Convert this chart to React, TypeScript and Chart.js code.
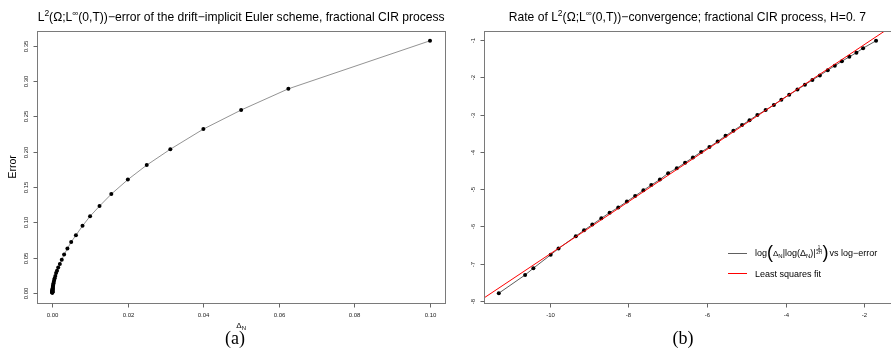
import React, { useEffect, useRef } from "react";
import { Chart, registerables } from "chart.js";
Chart.register(...registerables);

const SANS = "'Liberation Sans', Arial, Helvetica, sans-serif";
const SERIF = "'Liberation Serif', 'Times New Roman', serif";

// ---- panel (a): step size vs. error ----
const deltaN = [
  0.1, 0.0625, 0.05, 0.04, 0.03125, 0.025, 0.02, 0.015625, 0.0125, 0.01,
  0.008, 0.00625, 0.005, 0.004, 0.003125, 0.0025, 0.002, 0.0015625, 0.00125, 0.001,
  0.0008, 0.000625, 0.0005, 0.0004, 0.0003125, 0.00025, 0.0002, 0.00015625, 0.000125, 0.0001,
  0.00008, 0.0000625, 0.00005, 0.00004, 0.00003125, 0.000025, 0.00002, 0.000015625, 0.00001, 0.000008,
  0.000005, 0.000004, 0.000002,
];
const errorL2 = [
  0.357, 0.289, 0.259, 0.232, 0.2035, 0.181, 0.1605, 0.14, 0.123, 0.1086,
  0.095, 0.0817, 0.0722, 0.0628, 0.0543, 0.0472, 0.0412, 0.0362, 0.0315, 0.0282,
  0.0242, 0.0209, 0.0183, 0.0158, 0.0137, 0.0118, 0.0104, 0.0087, 0.0075, 0.0065,
  0.0056, 0.0049, 0.0041, 0.0036, 0.0031, 0.0026, 0.0022, 0.0019, 0.0014, 0.0012,
  0.0008, 0.0007, 0.0004,
];

// ---- panel (b): log-log rate plot ----
const logDeltaRate = [
  -1.7, -2.03, -2.2, -2.38, -2.57, -2.75, -2.93, -3.13, -3.32, -3.51,
  -3.7, -3.91, -4.11, -4.3, -4.51, -4.72, -4.92, -5.11, -5.33, -5.53,
  -5.73, -5.94, -6.15, -6.36, -6.56, -6.77, -6.99, -7.2, -7.42, -7.62,
  -7.83, -8.04, -8.26, -8.48, -8.69, -8.92, -9.13, -9.34, -9.78, -9.98,
  -10.42, -10.63, -11.3,
];
const logError = [
  -1.02, -1.22, -1.34, -1.45, -1.57, -1.69, -1.81, -1.95, -2.07, -2.2,
  -2.33, -2.47, -2.6, -2.74, -2.88, -3.01, -3.15, -3.28, -3.43, -3.57,
  -3.72, -3.87, -4.0, -4.15, -4.29, -4.44, -4.57, -4.74, -4.89, -5.03,
  -5.18, -5.33, -5.49, -5.63, -5.78, -5.95, -6.1, -6.26, -6.59, -6.76,
  -7.12, -7.3, -7.79,
];
const fitSlope = 0.702;
const fitIntercept = 0.28;

// ---- ticks ----
const leftXTicks = [0, 0.02, 0.04, 0.06, 0.08, 0.1];
const leftXTickLabels = ["0.00", "0.02", "0.04", "0.06", "0.08", "0.10"];
const leftYTicks = [0, 0.05, 0.1, 0.15, 0.2, 0.25, 0.3, 0.35];
const leftYTickLabels = ["0.00", "0.05", "0.10", "0.15", "0.20", "0.25", "0.30", "0.35"];
const rightXTicks = [-10, -8, -6, -4, -2];
const rightXTickLabels = ["-10", "-8", "-6", "-4", "-2"];
const rightYTicks = [-8, -7, -6, -5, -4, -3, -2, -1];
const rightYTickLabels = ["-8", "-7", "-6", "-5", "-4", "-3", "-2", "-1"];

const leftRange = { xMin: -0.004, xMax: 0.104, yMin: -0.0139, yMax: 0.371 };
const rightRange = { xMin: -11.68, xMax: -1.32, yMin: -8.06, yMax: -0.76 };

type Seg = { t?: string; size: number; dy?: number; family?: string; num?: string; den?: string; padL?: number; padR?: number };

function segWidth(ctx: CanvasRenderingContext2D, s: Seg): number {
  ctx.font = `${s.size}px ${s.family || SANS}`;
  let w = 0;
  if (s.num !== undefined) {
    w = Math.max(ctx.measureText(s.num).width, ctx.measureText(s.den || "").width);
  } else {
    w = ctx.measureText(s.t || "").width;
  }
  return w + (s.padL || 0) + (s.padR || 0);
}

function drawRich(ctx: CanvasRenderingContext2D, segs: Seg[], x: number, y: number, align: "left" | "center") {
  let total = 0;
  for (const s of segs) total += segWidth(ctx, s);
  let cx = align === "center" ? x - total / 2 : x;
  ctx.textAlign = "left";
  ctx.textBaseline = "alphabetic";
  for (const s of segs) {
    const w = segWidth(ctx, s);
    ctx.font = `${s.size}px ${s.family || SANS}`;
    const sx = cx + (s.padL || 0);
    if (s.num !== undefined) {
      const inner = w - (s.padL || 0) - (s.padR || 0);
      const nw = ctx.measureText(s.num).width;
      const dw = ctx.measureText(s.den || "").width;
      ctx.fillText(s.num, sx + (inner - nw) / 2, y + (s.dy || 0) - s.size * 0.75);
      ctx.fillText(s.den || "", sx + (inner - dw) / 2, y + (s.dy || 0) + s.size * 0.35);
      ctx.fillRect(sx, y + (s.dy || 0) - s.size * 0.55, inner, 0.5);
    } else {
      ctx.fillText(s.t || "", sx, y + (s.dy || 0));
    }
    cx += w;
  }
}

type AxesCfg = {
  id: string;
  xTicks: number[];
  xLabels: string[];
  yTicks: number[];
  yLabels: string[];
  title: Seg[];
  xTitle: Seg[];
  yTitle?: string;
  sub: string;
  subX: number;
  legend?: boolean;
};

function makeAxesPlugin(cfg: AxesCfg) {
  return {
    id: cfg.id,
    afterDraw(chart: any) {
      const ctx: CanvasRenderingContext2D = chart.ctx;
      const a = chart.chartArea;
      const xs = chart.scales.x;
      const ys = chart.scales.y;
      const L = Math.round(a.left) + 0.5;
      const T = Math.round(a.top) + 0.5;
      const R = Math.round(a.right) + 0.5;
      const B = Math.round(a.bottom) + 0.5;
      ctx.save();
      ctx.strokeStyle = "#7a7a7a";
      ctx.lineWidth = 1;
      ctx.strokeRect(L, T, R - L, B - T);

      ctx.fillStyle = "#222";
      ctx.strokeStyle = "#666";
      cfg.xTicks.forEach((v, i) => {
        const px = Math.round(xs.getPixelForValue(v)) + 0.5;
        ctx.beginPath();
        ctx.moveTo(px, B);
        ctx.lineTo(px, B + 4);
        ctx.stroke();
        ctx.font = `6px ${SANS}`;
        ctx.textAlign = "center";
        ctx.textBaseline = "middle";
        ctx.fillText(cfg.xLabels[i], px, B + 12);
      });
      cfg.yTicks.forEach((v, i) => {
        const py = Math.round(ys.getPixelForValue(v)) + 0.5;
        ctx.beginPath();
        ctx.moveTo(L, py);
        ctx.lineTo(L - 4, py);
        ctx.stroke();
        ctx.save();
        ctx.translate(L - 11, py);
        ctx.rotate(-Math.PI / 2);
        ctx.font = `6px ${SANS}`;
        ctx.textAlign = "center";
        ctx.textBaseline = "middle";
        ctx.fillText(cfg.yLabels[i], 0, 0);
        ctx.restore();
      });

      ctx.fillStyle = "#000";
      drawRich(ctx, cfg.title, (a.left + a.right) / 2, 21, "center");
      if (cfg.xTitle.length) drawRich(ctx, cfg.xTitle, (a.left + a.right) / 2, 328, "center");
      if (cfg.yTitle) {
        ctx.save();
        ctx.translate(16, (a.top + a.bottom) / 2);
        ctx.rotate(-Math.PI / 2);
        ctx.font = `10.5px ${SANS}`;
        ctx.textAlign = "center";
        ctx.textBaseline = "alphabetic";
        ctx.fillText(cfg.yTitle, 0, 0);
        ctx.restore();
      }
      ctx.font = `18px ${SERIF}`;
      ctx.textAlign = "center";
      ctx.textBaseline = "alphabetic";
      ctx.fillText(cfg.sub, cfg.subX, 344);

      if (cfg.legend) {
        const lx0 = 278, lw = 19, tx = 305;
        ctx.fillStyle = "#606060";
        ctx.fillRect(lx0, 253, lw, 1);
        ctx.fillStyle = "#ff0000";
        ctx.fillRect(lx0, 273, lw, 1);
        ctx.fillStyle = "#000";
        drawRich(
          ctx,
          [
            { t: "log", size: 9 },
            { t: "(", size: 18, dy: 1.5 },
            { t: "Δ", size: 8 },
            { t: "N", size: 6, dy: 2 },
            { t: "|log(Δ", size: 9 },
            { t: "N", size: 6, dy: 2 },
            { t: ")|", size: 9 },
            { num: "1", den: "2H", size: 4.5, dy: -4, padL: 0.5, padR: 0.5 },
            { t: ")", size: 18, dy: 1.5 },
            { t: "vs log−error", size: 9, padL: 1 },
          ],
          tx,
          256,
          "left"
        );
        drawRich(ctx, [{ t: "Least squares fit", size: 9 }], tx, 276.5, "left");
      }
      ctx.restore();
    },
  };
}

function hiddenScale(min: number, max: number) {
  return { type: "linear" as const, display: false, min, max };
}

export default function App() {
  const leftRef = useRef<HTMLCanvasElement | null>(null);
  const rightRef = useRef<HTMLCanvasElement | null>(null);

  useEffect(() => {
    const leftPts = deltaN.map((d, i) => ({ x: d, y: errorL2[i] }));
    const ratePts = logDeltaRate.map((d, i) => ({ x: d, y: logError[i] }));
    const fitPts = [rightRange.xMin, rightRange.xMax].map((x) => ({ x, y: fitSlope * x + fitIntercept }));

    const c1 = new Chart(leftRef.current as HTMLCanvasElement, {
      type: "scatter",
      data: {
        datasets: [
          {
            data: leftPts,
            showLine: true,
            borderColor: "#777",
            borderWidth: 0.8,
            pointRadius: 2,
            pointBorderWidth: 0,
            pointBackgroundColor: "#000",
          },
        ],
      },
      options: {
        responsive: false,
        animation: false,
        events: [],
        layout: { padding: { left: 37.2, right: 4.9, top: 30.9, bottom: 60.2 } },
        scales: {
          x: hiddenScale(leftRange.xMin, leftRange.xMax),
          y: hiddenScale(leftRange.yMin, leftRange.yMax),
        },
        plugins: { legend: { display: false }, tooltip: { enabled: false }, title: { display: false } },
      },
      plugins: [
        makeAxesPlugin({
          id: "rAxesLeft",
          xTicks: leftXTicks,
          xLabels: leftXTickLabels,
          yTicks: leftYTicks,
          yLabels: leftYTickLabels,
          title: [
            { t: "L", size: 12.1 },
            { t: "2", size: 8.5, dy: -5 },
            { t: "(Ω;L", size: 12.1 },
            { t: "∞", size: 8.5, dy: -5 },
            { t: "(0,T))−error of the drift−implicit Euler scheme, fractional CIR process", size: 12.1 },
          ],
          xTitle: [
            { t: "Δ", size: 8 },
            { t: "N", size: 6, dy: 2 },
          ],
          yTitle: "Error",
          sub: "(a)",
          subX: 235,
        }),
      ],
    } as any);

    const c2 = new Chart(rightRef.current as HTMLCanvasElement, {
      type: "scatter",
      data: {
        datasets: [
          {
            data: fitPts,
            showLine: true,
            borderColor: "#ff0000",
            borderWidth: 1,
            pointRadius: 0,
          },
          {
            data: ratePts,
            showLine: true,
            borderColor: "#333",
            borderWidth: 0.8,
            pointRadius: 2,
            pointBorderWidth: 0,
            pointBackgroundColor: "#000",
          },
        ],
      },
      options: {
        responsive: false,
        animation: false,
        events: [],
        layout: { padding: { left: 33.85, right: 3.2, top: 31.05, bottom: 59.7 } },
        scales: {
          x: hiddenScale(rightRange.xMin, rightRange.xMax),
          y: hiddenScale(rightRange.yMin, rightRange.yMax),
        },
        plugins: { legend: { display: false }, tooltip: { enabled: false }, title: { display: false } },
      },
      plugins: [
        makeAxesPlugin({
          id: "rAxesRight",
          xTicks: rightXTicks,
          xLabels: rightXTickLabels,
          yTicks: rightYTicks,
          yLabels: rightYTickLabels,
          title: [
            { t: "Rate of L", size: 12.1 },
            { t: "2", size: 8.5, dy: -5 },
            { t: "(Ω;L", size: 12.1 },
            { t: "∞", size: 8.5, dy: -5 },
            { t: "(0,T))−convergence; fractional CIR process, H=0. 7", size: 12.1 },
          ],
          xTitle: [],
          sub: "(b)",
          subX: 233,
          legend: true,
        }),
      ],
    } as any);

    return () => {
      c1.destroy();
      c2.destroy();
    };
  }, []);

  return (
    <div
      style={{
        position: "absolute",
        left: 0,
        top: 0,
        width: 891,
        height: 363,
        overflow: "hidden",
        background: "#fff",
      }}
    >
      <canvas ref={leftRef} width={450} height={363} style={{ position: "absolute", left: 0, top: 0 }} />
      <canvas ref={rightRef} width={445} height={363} style={{ position: "absolute", left: 450, top: 0 }} />
    </div>
  );
}
